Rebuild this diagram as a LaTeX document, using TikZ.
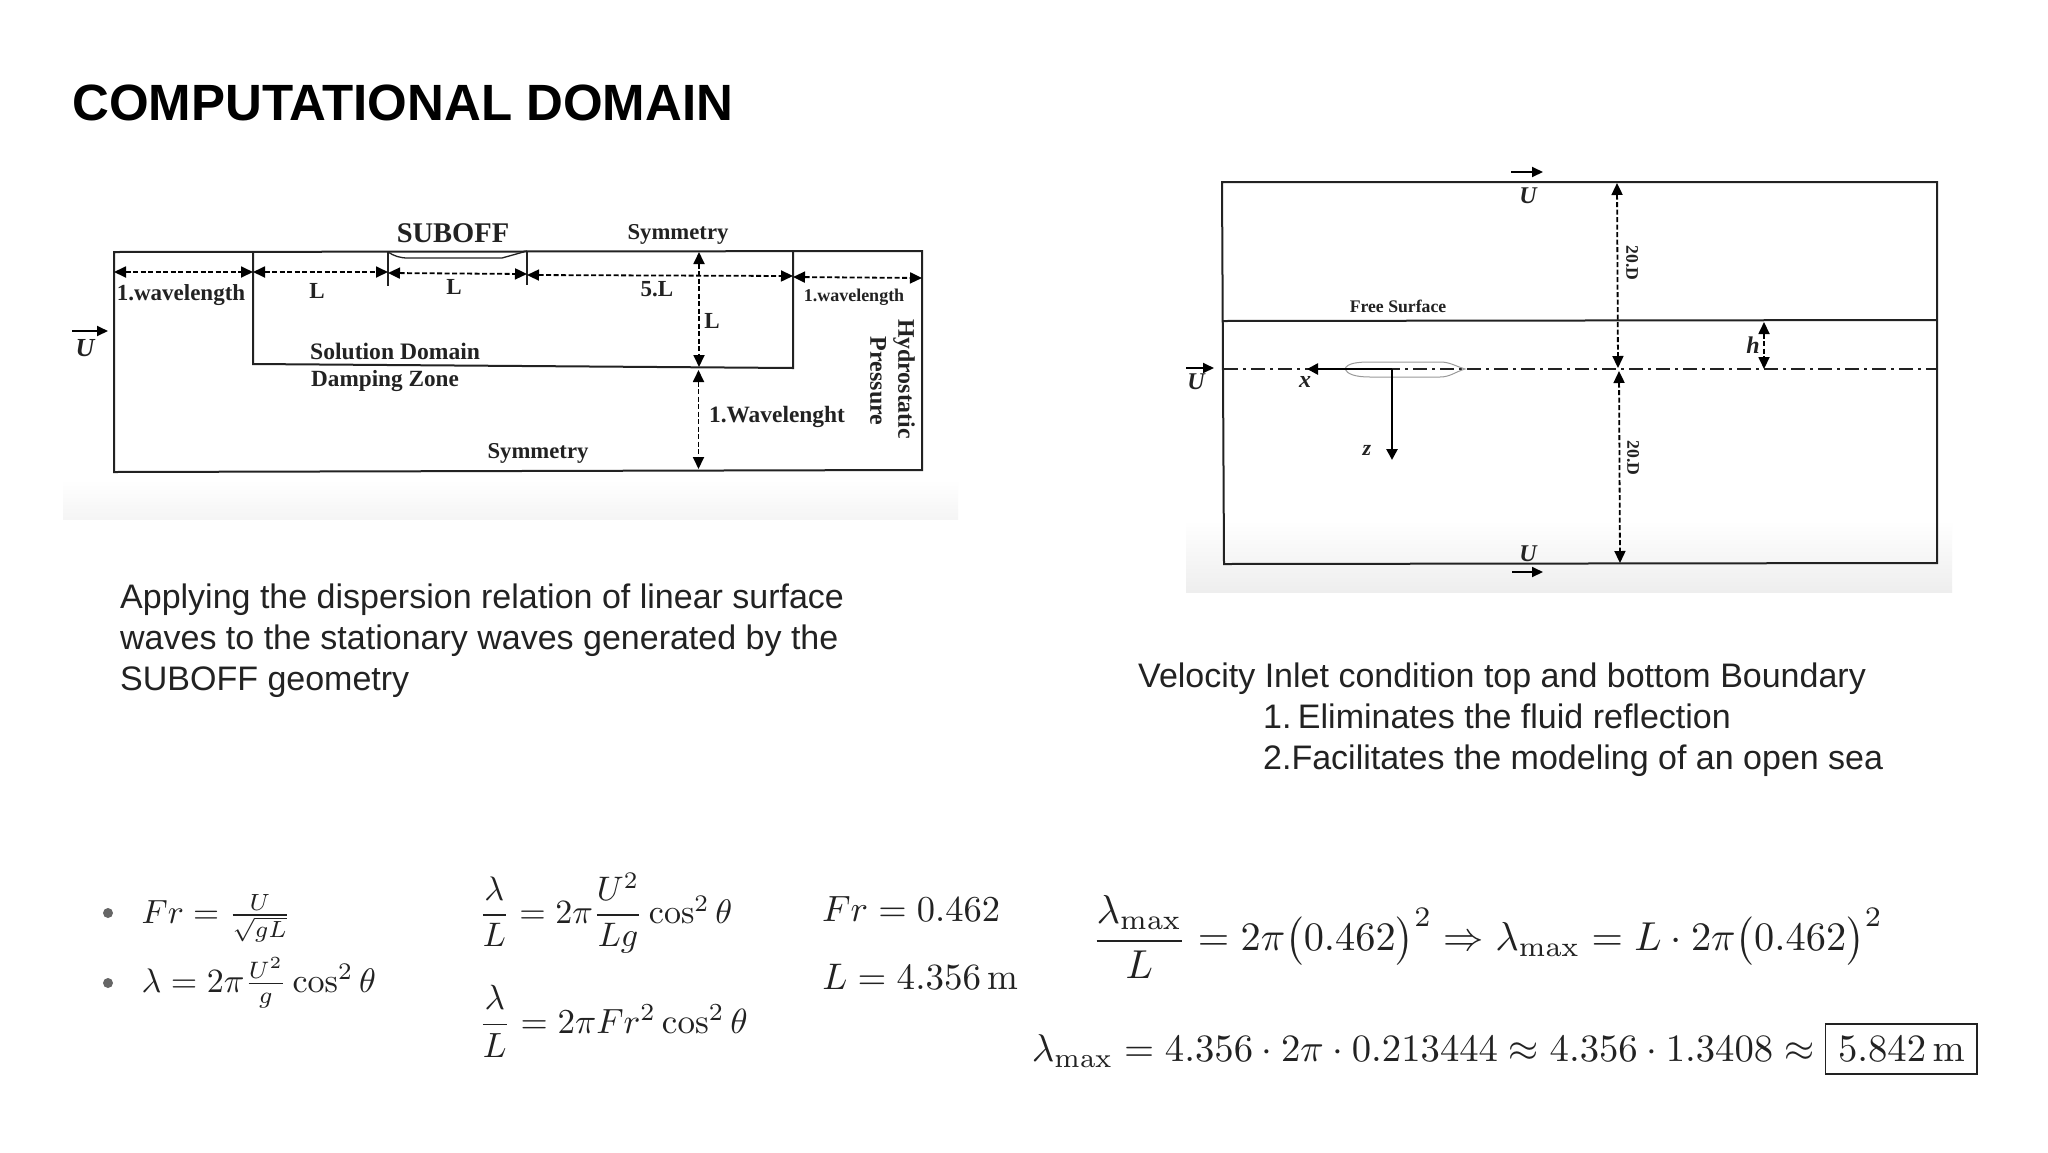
\documentclass[tikz,border=0pt]{standalone}
\usepackage{amsmath}
\usepackage[no-math]{fontspec}
\setmainfont{Liberation Sans}
\newfontfamily\tms{Liberation Serif}
\usetikzlibrary{arrows.meta}
\definecolor{ink}{HTML}{222222}
\definecolor{bandgrey}{HTML}{EEEEEE}
\newcommand{\fs}[1]{\fontsize{#1}{#1}\selectfont}
\tikzset{
  lbl/.style={inner sep=0pt,text=ink,font=\tms\bfseries\fs{#1}},
  ital/.style={inner sep=0pt,text=ink,font=\tms\bfseries\itshape\fs{#1}},
  body/.style={inner sep=0pt,anchor=base west,text=ink,font=\fs{34}},
  eqn/.style={inner sep=0pt,anchor=west,text=ink,scale=#1},
  wall/.style={draw=ink,line width=2pt},
  dimline/.style={draw=black,line width=1.8pt,dash pattern=on 5pt off 2.5pt,{Triangle[length=12pt,width=11pt]}-{Triangle[length=12pt,width=11pt]}},
  flow/.style={draw=black,line width=1.8pt,-{Triangle[length=11pt,width=10pt]}},
  axis/.style={draw=black,line width=2.6pt,-{Triangle[length=11pt,width=11pt]}},
  centerline/.style={draw=ink,line width=1.6pt,dash pattern=on 14pt off 5pt on 3pt off 5pt},
}
\begin{document}
\begin{tikzpicture}[x=1pt,y=-1pt]
\useasboundingbox (0,0) rectangle (2048,1152);
\fill[white] (0,0) rectangle (2048,1152);
% image backdrops
\shade[top color=white,bottom color=bandgrey!60] (63,480) rectangle (958,519);
\shade[top color=white,bottom color=bandgrey] (1186,520) rectangle (1952,592);

\node[anchor=west,inner sep=0pt,text=black,font=\bfseries\fs{51}] (title) at (72,103) {COMPUTATIONAL DOMAIN};

% ---- left diagram
\coordinate (ltl) at (114,252); \coordinate (ltr) at (922,251);
\coordinate (lbr) at (922,470); \coordinate (lbl) at (114,472);
\coordinate (itl) at (253,252); \coordinate (ibl) at (253,364);
\coordinate (ibr) at (793,368); \coordinate (itr) at (793,251);
\draw[wall] (ltl) -- (ltr) -- (lbr) -- (lbl) -- cycle;
\draw[wall] (itl) -- (ibl) -- (ibr) -- (itr);
\coordinate (ta) at (388,252); \coordinate (tb) at (388,286);
\coordinate (tc) at (527,251); \coordinate (td) at (527,285);
\draw[draw=ink,line width=1.5pt] (ta) -- (tb);
\draw[draw=ink,line width=1.5pt] (tc) -- (td);
\draw[draw=ink,line width=1.3pt] (ta) .. controls (394,256) and (400,258) .. (408,258) -- (502,258) -- (tc);
\coordinate (d0) at (114,272); \coordinate (d1) at (253,272);
\coordinate (d2) at (388,272); \coordinate (d3) at (388,273);
\coordinate (d4) at (527,274); \coordinate (d5) at (527,275);
\coordinate (d6) at (793,276); \coordinate (d7) at (793,277);
\coordinate (d8) at (922,278);
\draw[dimline] (d0) -- (d1);
\draw[dimline] (d1) -- (d2);
\draw[dimline] (d3) -- (d4);
\draw[dimline] (d5) -- (d6);
\draw[dimline] (d7) -- (d8);
\coordinate (v0) at (699,252); \coordinate (v1) at (699,367);
\coordinate (v2) at (698.5,370); \coordinate (v3) at (698.5,469);
\draw[dimline] (v0) -- (v1);
\draw[dimline] (v2) -- (v3);
\coordinate (ua) at (72,331); \coordinate (ub) at (108,331);
\draw[flow] (ua) -- (ub);
\node[ital=26] (u1) at (85,348) {U};
\node[lbl=28.5] (suboff) at (453,233) {SUBOFF};
\node[lbl=22.7] (sym1) at (678,234.5) {Symmetry};
\node[lbl=22.7] (sym2) at (538,453.5) {Symmetry};
\node[lbl=23] (w1) at (181,295.5) {1.wavelength};
\node[lbl=23] (l1) at (317,291) {L};
\node[lbl=23] (l2) at (454,287) {L};
\node[lbl=23] (l3) at (657,289) {5.L};
\node[lbl=23] (l4) at (712,321) {L};
\node[lbl=18] (w2) at (854,297) {1.wavelength};
\node[lbl=23.4] (w3) at (777,417) {1.Wavelenght};
\node[lbl=23.6,anchor=west] (sd) at (310,351) {Solution Domain};
\node[lbl=23.2,anchor=west] (dz) at (311,381) {Damping Zone};
\node[lbl=23.8,rotate=-90] (hy) at (904,379) {Hydrostatic};
\node[lbl=24,rotate=-90] (pr) at (878,381) {Pressure};

% ---- right diagram
\coordinate (rtl) at (1222,182); \coordinate (rtr) at (1937,182);
\coordinate (rbr) at (1937,563); \coordinate (rbl) at (1224,564);
\coordinate (fl) at (1222,321); \coordinate (fr) at (1937,320);
\coordinate (cl) at (1224,369); \coordinate (cr) at (1937,369);
\draw[wall] (rtl) -- (rtr) -- (rbr) -- (rbl) -- cycle;
\draw[wall] (fl) -- (fr);
\draw[centerline] (cl) -- (cr);
\draw[draw=black!40,line width=1pt] (1345,369) .. controls (1347,363) and (1358,362) .. (1370,362) -- (1440,362) .. controls (1450,362) and (1455,366) .. (1465,369) .. controls (1455,372) and (1450,377) .. (1440,377) -- (1370,377) .. controls (1355,377) and (1347,374) .. (1345,369) -- cycle;
\coordinate (o) at (1392,369); \coordinate (ox) at (1307,369); \coordinate (oz) at (1392,460);
\draw[axis] (o) -- (ox);
\draw[axis] (o) -- (oz);
\coordinate (r0) at (1617,183); \coordinate (r1) at (1618,368);
\coordinate (r2) at (1619,371); \coordinate (r3) at (1620,563);
\coordinate (h0) at (1764,322); \coordinate (h1) at (1764,369);
\draw[dimline] (r0) -- (r1);
\draw[dimline] (r2) -- (r3);
\draw[dimline] (h0) -- (h1);
\coordinate (t0) at (1511,172); \coordinate (t1) at (1543,172);
\coordinate (b0) at (1512,572); \coordinate (b1) at (1543,572);
\coordinate (s0) at (1186,368); \coordinate (s1) at (1214,368);
\draw[flow] (t0) -- (t1);
\draw[flow] (b0) -- (b1);
\draw[flow] (s0) -- (s1);
\node[ital=24] (u2) at (1528,196) {U};
\node[ital=24] (u3) at (1528,554) {U};
\node[ital=24] (u4) at (1196,382) {U};
\node[ital=24] (xl) at (1305,382) {x};
\node[ital=22] (zl) at (1367,450) {z};
\node[ital=24] (hl) at (1753,345) {h};
\node[lbl=17.7] (fs) at (1398,306) {Free Surface};
\node[lbl=17.7,rotate=-90] (dd1) at (1632,263) {20.D};
\node[lbl=17.7,rotate=-90] (dd2) at (1633,458) {20.D};

% ---- body text
\node[body,align=left,font=\fontsize{34}{41}\selectfont,anchor=north west] (para1) at (120,584) {Applying the dispersion relation of linear surface\\waves to the stationary waves generated by the\\SUBOFF geometry};
\node[body] (v1t) at (1138,687) {Velocity Inlet condition top and bottom Boundary};
\node[body] (v2t) at (1263,728) {1.\kern-3pt\ Eliminates the fluid reflection};
\node[body] (v3t) at (1263,769) {2.Facilitates the modeling of an open sea};

% ---- equations
\fill[black!60] (108,913) circle (5pt);
\fill[black!60] (108,983) circle (5pt);
\node[eqn=3.35] (e1) at (141,918) {$Fr=\frac{U}{\sqrt{gL}}$};
\node[eqn=3.4] (e2) at (141,983) {$\lambda=2\pi\frac{U^2}{g}\cos^2\theta$};
\node[eqn=3.4] (e3) at (478,913) {$\dfrac{\lambda}{L}=2\pi\dfrac{U^2}{Lg}\cos^2\theta$};
\node[eqn=3.5] (e4) at (478,1021) {$\dfrac{\lambda}{L}=2\pi Fr^2\cos^2\theta$};
\node[eqn=3.65] (e5) at (821.5,909) {$Fr=0.462$};
\node[eqn=3.7] (e6) at (821.5,977) {$L=4.356\,\mathrm{m}$};
\node[eqn=4.04] (e7) at (1091,937) {$\dfrac{\lambda_{\max}}{L}=2\pi\bigl(0.462\bigr)^2\Rightarrow\lambda_{\max}=L\cdot2\pi\bigl(0.462\bigr)^2$};
\node[eqn=3.87] (e8) at (1031,1049) {$\lambda_{\max}=4.356\cdot2\pi\cdot0.213444\approx4.356\cdot1.3408\approx\boxed{5.842\,\mathrm{m}}$};
\end{tikzpicture}
\end{document}
